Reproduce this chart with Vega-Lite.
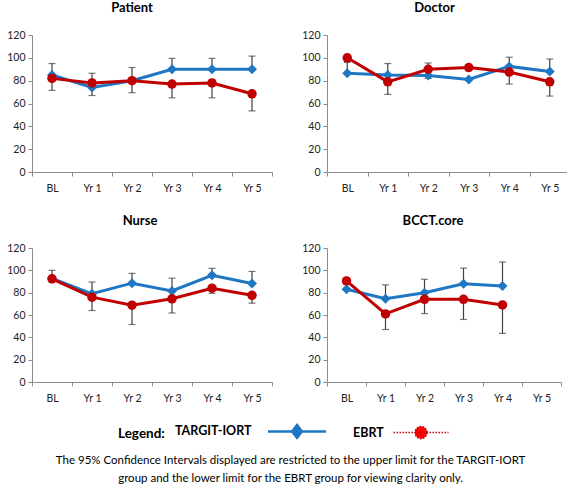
{
  "$schema": "https://vega.github.io/schema/vega-lite/v6.json",
  "background": "white",
  "padding": {"left": 6, "top": 2, "right": 0, "bottom": 0},
  "config": {
    "font": "Lato",
    "view": {"stroke": null},
    "axis": {"labelFont": "Lato", "labelFontSize": 10.5, "labelColor": "#222222", "domainColor": "#8c8c8c", "tickColor": "#8c8c8c", "grid": false, "tickSize": 4, "title": null},
    "title": {"font": "Lato", "fontSize": 13, "fontWeight": "bold", "color": "#000000", "anchor": "middle", "offset": 15}
  },
  "datasets": {
    "d": [
      {"panel": "Patient", "time": "BL", "series": "TARGIT-IORT", "value": 85, "ci": 95},
      {"panel": "Patient", "time": "Yr 1", "series": "TARGIT-IORT", "value": 74, "ci": 86.5},
      {"panel": "Patient", "time": "Yr 2", "series": "TARGIT-IORT", "value": 80, "ci": 91.5},
      {"panel": "Patient", "time": "Yr 3", "series": "TARGIT-IORT", "value": 90, "ci": 99.5},
      {"panel": "Patient", "time": "Yr 4", "series": "TARGIT-IORT", "value": 90, "ci": 99.5},
      {"panel": "Patient", "time": "Yr 5", "series": "TARGIT-IORT", "value": 90, "ci": 101.5},
      {"panel": "Patient", "time": "BL", "series": "EBRT", "value": 82, "ci": 71.5},
      {"panel": "Patient", "time": "Yr 1", "series": "EBRT", "value": 78, "ci": 67},
      {"panel": "Patient", "time": "Yr 2", "series": "EBRT", "value": 80, "ci": 69.5},
      {"panel": "Patient", "time": "Yr 3", "series": "EBRT", "value": 77, "ci": 65},
      {"panel": "Patient", "time": "Yr 4", "series": "EBRT", "value": 78, "ci": 65},
      {"panel": "Patient", "time": "Yr 5", "series": "EBRT", "value": 68.5, "ci": 53.5},
      {"panel": "Doctor", "time": "BL", "series": "TARGIT-IORT", "value": 86.5, "ci": 96},
      {"panel": "Doctor", "time": "Yr 1", "series": "TARGIT-IORT", "value": 85, "ci": 95},
      {"panel": "Doctor", "time": "Yr 2", "series": "TARGIT-IORT", "value": 84.5, "ci": 95.5},
      {"panel": "Doctor", "time": "Yr 3", "series": "TARGIT-IORT", "value": 81, "ci": null},
      {"panel": "Doctor", "time": "Yr 4", "series": "TARGIT-IORT", "value": 92.5, "ci": 100.5},
      {"panel": "Doctor", "time": "Yr 5", "series": "TARGIT-IORT", "value": 88, "ci": 99},
      {"panel": "Doctor", "time": "BL", "series": "EBRT", "value": 100, "ci": null},
      {"panel": "Doctor", "time": "Yr 1", "series": "EBRT", "value": 79, "ci": 68},
      {"panel": "Doctor", "time": "Yr 2", "series": "EBRT", "value": 90, "ci": 82},
      {"panel": "Doctor", "time": "Yr 3", "series": "EBRT", "value": 91.5, "ci": null},
      {"panel": "Doctor", "time": "Yr 4", "series": "EBRT", "value": 87.5, "ci": 77},
      {"panel": "Doctor", "time": "Yr 5", "series": "EBRT", "value": 79, "ci": 66.5},
      {"panel": "Nurse", "time": "BL", "series": "TARGIT-IORT", "value": 92.7, "ci": 100},
      {"panel": "Nurse", "time": "Yr 1", "series": "TARGIT-IORT", "value": 79, "ci": 89.5},
      {"panel": "Nurse", "time": "Yr 2", "series": "TARGIT-IORT", "value": 88.5, "ci": 97.3},
      {"panel": "Nurse", "time": "Yr 3", "series": "TARGIT-IORT", "value": 81.5, "ci": 93},
      {"panel": "Nurse", "time": "Yr 4", "series": "TARGIT-IORT", "value": 95.5, "ci": 101.8},
      {"panel": "Nurse", "time": "Yr 5", "series": "TARGIT-IORT", "value": 88.2, "ci": 99},
      {"panel": "Nurse", "time": "BL", "series": "EBRT", "value": 92.4, "ci": null},
      {"panel": "Nurse", "time": "Yr 1", "series": "EBRT", "value": 76, "ci": 64},
      {"panel": "Nurse", "time": "Yr 2", "series": "EBRT", "value": 68.8, "ci": 51.5},
      {"panel": "Nurse", "time": "Yr 3", "series": "EBRT", "value": 74.5, "ci": 61.8},
      {"panel": "Nurse", "time": "Yr 4", "series": "EBRT", "value": 84, "ci": 79.4},
      {"panel": "Nurse", "time": "Yr 5", "series": "EBRT", "value": 77.6, "ci": 70.6},
      {"panel": "BCCT.core", "time": "BL", "series": "TARGIT-IORT", "value": 83, "ci": null},
      {"panel": "BCCT.core", "time": "Yr 1", "series": "TARGIT-IORT", "value": 74.5, "ci": 87},
      {"panel": "BCCT.core", "time": "Yr 2", "series": "TARGIT-IORT", "value": 80, "ci": 92},
      {"panel": "BCCT.core", "time": "Yr 3", "series": "TARGIT-IORT", "value": 88, "ci": 102},
      {"panel": "BCCT.core", "time": "Yr 4", "series": "TARGIT-IORT", "value": 86, "ci": 107.5},
      {"panel": "BCCT.core", "time": "BL", "series": "EBRT", "value": 90.5, "ci": null},
      {"panel": "BCCT.core", "time": "Yr 1", "series": "EBRT", "value": 61, "ci": 47},
      {"panel": "BCCT.core", "time": "Yr 2", "series": "EBRT", "value": 74, "ci": 61.3},
      {"panel": "BCCT.core", "time": "Yr 3", "series": "EBRT", "value": 74, "ci": 56},
      {"panel": "BCCT.core", "time": "Yr 4", "series": "EBRT", "value": 69, "ci": 43.5}
    ]
  },
  "title": {
    "text": ["The 95% Confidence Intervals displayed are restricted to the upper limit for the TARGIT-IORT", "group and the lower limit for the EBRT group for viewing clarity only."],
    "orient": "bottom", "anchor": "middle", "fontSize": 11.5, "fontWeight": "normal", "font": "Lato", "color": "#000000", "lineHeight": 18, "offset": 12, "dx": 2
  },
  "spacing": 21,
  "vconcat": [
    {
      "spacing": 28,
      "hconcat": [
        {
          "title": {"text": "Patient", "dx": -20},
          "width": 240, "height": 137,
          "data": {"name": "d"},
          "transform": [{"filter": "datum.panel === 'Patient'"}],
          "encoding": {
            "x": {"field": "time", "type": "ordinal", "scale": {"type": "band", "domain": ["BL", "Yr 1", "Yr 2", "Yr 3", "Yr 4", "Yr 5"], "paddingInner": 0, "paddingOuter": 0}, "axis": {"labelAngle": 0, "tickBand": "extent", "labelPadding": 7}},
            "y": {"field": "value", "type": "quantitative", "scale": {"domain": [0, 120], "nice": false}, "axis": {"values": [0, 20, 40, 60, 80, 100, 120], "labelPadding": 3}}
          },
          "layer": [
            {"mark": {"type": "rule", "color": "#404040", "strokeWidth": 1.2}, "encoding": {"y2": {"field": "ci"}}},
            {"mark": {"type": "tick", "orient": "horizontal", "color": "#404040", "size": 7, "thickness": 1.2}, "encoding": {"y": {"field": "ci", "type": "quantitative"}}},
            {"mark": {"type": "line", "strokeWidth": 3}, "encoding": {"color": {"field": "series", "type": "nominal", "scale": {"domain": ["TARGIT-IORT", "EBRT"], "range": ["#1f77c4", "#c00000"]},
              "legend": {
                "orient": "none", "legendX": 86, "legendY": 390, "direction": "horizontal",
                "title": "Legend:", "titleOrient": "left", "titleFontSize": 13.5, "titleFontWeight": "bold", "titleColor": "#000000", "titlePadding": 10, "titleFont": "Lato",
                "labelFontSize": 12.5, "labelFontWeight": "bold", "labelColor": "#000000", "labelFont": "Lato", "columnPadding": 22,
                "encode": {
                  "symbols": {"update": {
                    "shape": {"signal": "datum.value === 'EBRT' ? 'M-1,0H1M0.22,0A0.22,0.22 0 1,1 -0.22,0A0.22,0.22 0 1,1 0.22,0Z' : 'M-1,0H1M0,-0.22L0.17,0L0,0.22L-0.17,0Z'"},
                    "size": {"signal": "datum.value === 'EBRT' ? 3025 : 3364"},
                    "x": {"signal": "datum.value === 'EBRT' ? 68 : 122"},
                    "strokeDash": {"signal": "datum.value === 'EBRT' ? [1.5, 1.5] : [1, 0]"},
                    "strokeWidth": {"signal": "datum.value === 'EBRT' ? 1.5 : 2.5"},
                    "stroke": {"signal": "datum.value === 'EBRT' ? '#ff0000' : '#1f77c4'"},
                    "fill": {"signal": "datum.value === 'EBRT' ? '#ff0000' : '#1f77c4'"},
                    "opacity": {"value": 1}
                  }},
                  "labels": {"update": {"x": {"value": 0}}}
                }
              }}}},
            {"transform": [{"filter": "datum.series === 'TARGIT-IORT'"}], "mark": {"type": "point", "shape": "diamond", "filled": true, "opacity": 1, "size": 100, "color": "#1f77c4"}},
            {"transform": [{"filter": "datum.series === 'EBRT'"}], "mark": {"type": "point", "shape": "circle", "filled": true, "opacity": 1, "size": 90, "color": "#c00000"}}
          ]
        },
        {
          "title": {"text": "Doctor", "dx": -14},
          "width": 243, "height": 137,
          "data": {"name": "d"},
          "transform": [{"filter": "datum.panel === 'Doctor'"}],
          "encoding": {
            "x": {"field": "time", "type": "ordinal", "scale": {"type": "band", "domain": ["BL", "Yr 1", "Yr 2", "Yr 3", "Yr 4", "Yr 5"], "paddingInner": 0, "paddingOuter": 0}, "axis": {"labelAngle": 0, "tickBand": "extent", "labelPadding": 7}},
            "y": {"field": "value", "type": "quantitative", "scale": {"domain": [0, 120], "nice": false}, "axis": {"values": [0, 20, 40, 60, 80, 100, 120], "labelPadding": 3}}
          },
          "layer": [
            {"mark": {"type": "rule", "color": "#404040", "strokeWidth": 1.2}, "encoding": {"y2": {"field": "ci"}}},
            {"mark": {"type": "tick", "orient": "horizontal", "color": "#404040", "size": 7, "thickness": 1.2}, "encoding": {"y": {"field": "ci", "type": "quantitative"}}},
            {"mark": {"type": "line", "strokeWidth": 3}, "encoding": {"color": {"field": "series", "type": "nominal"}}},
            {"transform": [{"filter": "datum.series === 'TARGIT-IORT'"}], "mark": {"type": "point", "shape": "diamond", "filled": true, "opacity": 1, "size": 100, "color": "#1f77c4"}},
            {"transform": [{"filter": "datum.series === 'EBRT'"}], "mark": {"type": "point", "shape": "circle", "filled": true, "opacity": 1, "size": 90, "color": "#c00000"}}
          ]
        }
      ]
    },
    {
      "spacing": 28,
      "hconcat": [
        {
          "title": {"text": "Nurse", "dx": -12},
          "width": 240, "height": 134,
          "data": {"name": "d"},
          "transform": [{"filter": "datum.panel === 'Nurse'"}],
          "encoding": {
            "x": {"field": "time", "type": "ordinal", "scale": {"type": "band", "domain": ["BL", "Yr 1", "Yr 2", "Yr 3", "Yr 4", "Yr 5"], "paddingInner": 0, "paddingOuter": 0}, "axis": {"labelAngle": 0, "tickBand": "extent", "labelPadding": 7}},
            "y": {"field": "value", "type": "quantitative", "scale": {"domain": [0, 120], "nice": false}, "axis": {"values": [0, 20, 40, 60, 80, 100, 120], "labelPadding": 3}}
          },
          "layer": [
            {"mark": {"type": "rule", "color": "#404040", "strokeWidth": 1.2}, "encoding": {"y2": {"field": "ci"}}},
            {"mark": {"type": "tick", "orient": "horizontal", "color": "#404040", "size": 7, "thickness": 1.2}, "encoding": {"y": {"field": "ci", "type": "quantitative"}}},
            {"mark": {"type": "line", "strokeWidth": 3}, "encoding": {"color": {"field": "series", "type": "nominal"}}},
            {"transform": [{"filter": "datum.series === 'TARGIT-IORT'"}], "mark": {"type": "point", "shape": "diamond", "filled": true, "opacity": 1, "size": 100, "color": "#1f77c4"}},
            {"transform": [{"filter": "datum.series === 'EBRT'"}], "mark": {"type": "point", "shape": "circle", "filled": true, "opacity": 1, "size": 90, "color": "#c00000"}}
          ]
        },
        {
          "title": {"text": "BCCT.core", "dx": -11},
          "width": 234, "height": 134,
          "data": {"name": "d"},
          "transform": [{"filter": "datum.panel === 'BCCT.core'"}],
          "encoding": {
            "x": {"field": "time", "type": "ordinal", "scale": {"type": "band", "domain": ["BL", "Yr 1", "Yr 2", "Yr 3", "Yr 4", "Yr 5"], "paddingInner": 0, "paddingOuter": 0}, "axis": {"labelAngle": 0, "tickBand": "extent", "labelPadding": 7}},
            "y": {"field": "value", "type": "quantitative", "scale": {"domain": [0, 120], "nice": false}, "axis": {"values": [0, 20, 40, 60, 80, 100, 120], "labelPadding": 3}}
          },
          "layer": [
            {"mark": {"type": "rule", "color": "#404040", "strokeWidth": 1.2}, "encoding": {"y2": {"field": "ci"}}},
            {"mark": {"type": "tick", "orient": "horizontal", "color": "#404040", "size": 7, "thickness": 1.2}, "encoding": {"y": {"field": "ci", "type": "quantitative"}}},
            {"mark": {"type": "line", "strokeWidth": 3}, "encoding": {"color": {"field": "series", "type": "nominal"}}},
            {"transform": [{"filter": "datum.series === 'TARGIT-IORT'"}], "mark": {"type": "point", "shape": "diamond", "filled": true, "opacity": 1, "size": 100, "color": "#1f77c4"}},
            {"transform": [{"filter": "datum.series === 'EBRT'"}], "mark": {"type": "point", "shape": "circle", "filled": true, "opacity": 1, "size": 90, "color": "#c00000"}}
          ]
        }
      ]
    }
  ]
}
